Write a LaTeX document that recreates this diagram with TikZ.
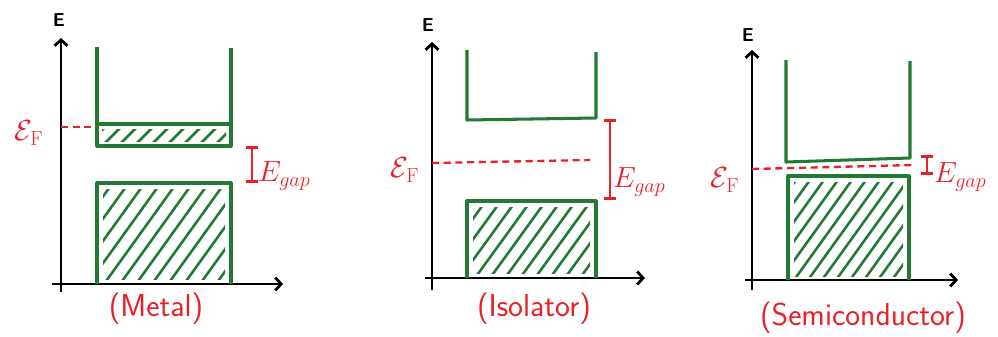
\documentclass[tikz,border=0pt]{standalone}
\usetikzlibrary{arrows.meta}
\definecolor{bandgreen}{RGB}{34,122,52}
\definecolor{levelred}{RGB}{232,32,40}
\begin{document}
\begin{tikzpicture}[
x=0.03cm,y=-0.03cm,
axis/.style={line width=2.4pt,-{Straight Barb[length=5pt,width=11pt]}},
band/.style={draw=bandgreen,line width=2.6pt,line join=round},
hatch/.style={bandgreen,line width=2.2pt,line cap=round},
fermi/.style={levelred,line width=2pt,dash pattern=on 6pt off 4pt},
gapbar/.style={levelred,line width=2.2pt,{Bar[width=11pt]}-{Bar[width=11pt]}},
elabel/.style={font=\sffamily\bfseries\fontsize{16}{18}\selectfont},
flabel/.style={levelred,font=\fontsize{24}{28}\selectfont},
glabel/.style={levelred,anchor=west,font=\fontsize{25}{30}\selectfont},
kind/.style={levelred,font=\sffamily\fontsize{27}{32}\selectfont}
]
\useasboundingbox (0,0) rectangle (998,337);

\coordinate (ybot1) at (61,292);
\coordinate (ytop1) at (61,38);
\coordinate (xl1) at (52,284);
\coordinate (xr1) at (283,284);
\draw[axis] (ybot1) -- (ytop1);
\draw[axis] (xl1) -- (xr1);
\node[elabel] (e1) at (59,20) {E};
\begin{scope}
\clip (102,129) rectangle (226,141);
\foreach \x in {70,86,...,240} \draw[hatch] (\x,146) -- ++(22,-22);
\end{scope}
\begin{scope}
\clip (103,189) rectangle (225,279);
\foreach \x in {24,40,...,240} \draw[hatch] (\x,284) -- ++(72,-100);
\end{scope}
\draw[band] (97,47) -- (97,146) -- (231,146) -- (231,48);
\draw[band] (97,124) -- (231,124);
\draw[band] (97,284) |- (231,183) -- (231,284);
\coordinate (fa1) at (61,127);
\coordinate (fb1) at (97,127);
\draw[fermi] (fa1) -- (fb1);
\node[flabel] (ef1) at (29,133) {$\mathcal{E}_{\mathrm{F}}$};
\coordinate (ga1) at (252,146);
\coordinate (gb1) at (252,183);
\draw[gapbar] (ga1) -- (gb1);
\node[glabel] (eg1) at (254,176) {$E_{gap}$};
\node[kind] (k1) at (156,309) {(Metal)};

\coordinate (ybot2) at (432,290);
\coordinate (ytop2) at (432,42);
\coordinate (xl2) at (425,278);
\coordinate (xr2) at (645,278);
\draw[axis] (ybot2) -- (ytop2);
\draw[axis] (xl2) -- (xr2);
\node[elabel] (e2) at (428,25) {E};
\begin{scope}
\clip (473,207) rectangle (590,273);
\foreach \x in {400,415,...,610} \draw[hatch] (\x,278) -- ++(58,-80);
\end{scope}
\draw[band] (467,50) -- (467,120) -- (596,118) -- (596,52);
\draw[band] (467,278) |- (596,201) -- (596,278);
\coordinate (fa2) at (432,163);
\coordinate (fb2) at (590,160);
\draw[fermi] (fa2) -- (fb2);
\node[flabel] (ef2) at (405,170) {$\mathcal{E}_{\mathrm{F}}$};
\coordinate (ga2) at (610,119);
\coordinate (gb2) at (610,200);
\draw[gapbar] (ga2) -- (gb2);
\node[glabel] (eg2) at (609,182) {$E_{gap}$};
\node[kind] (k2) at (534,309) {(Isolator)};

\coordinate (ybot3) at (752,290);
\coordinate (ytop3) at (752,50);
\coordinate (xl3) at (745,280);
\coordinate (xr3) at (958,280);
\draw[axis] (ybot3) -- (ytop3);
\draw[axis] (xl3) -- (xr3);
\node[elabel] (e3) at (748,35) {E};
\begin{scope}
\clip (794,182) rectangle (903,276);
\foreach \x in {710,724,...,920} \draw[hatch] (\x,280) -- ++(72,-100);
\end{scope}
\draw[band] (786,60) -- (786,162) -- (910,158) -- (910,61);
\draw[band] (788,280) |- (909,176) -- (909,280);
\coordinate (fa3) at (752,169);
\coordinate (fb3) at (913,165);
\draw[fermi] (fa3) -- (fb3);
\node[flabel] (ef3) at (725,180) {$\mathcal{E}_{\mathrm{F}}$};
\coordinate (ga3) at (927,155);
\coordinate (gb3) at (927,175);
\draw[gapbar] (ga3) -- (gb3);
\node[glabel] (eg3) at (930,177) {$E_{gap}$};
\node[kind] (k3) at (863,318) {(Semiconductor)};
\end{tikzpicture}
\end{document}
